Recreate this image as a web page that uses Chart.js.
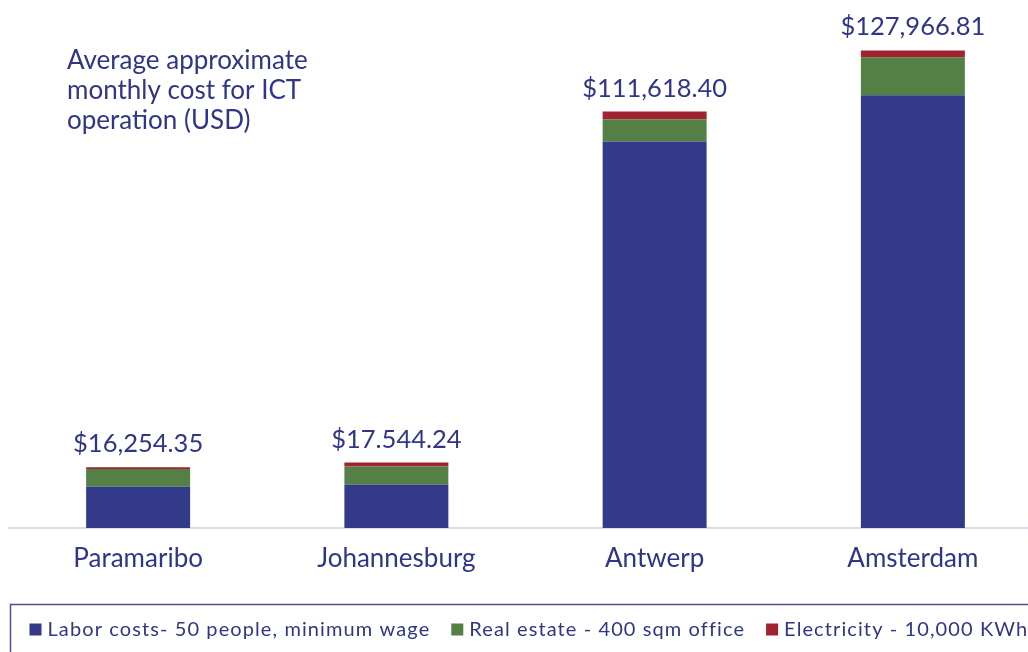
<!DOCTYPE html>
<html><head><meta charset="utf-8">
<script src="https://cdn.jsdelivr.net/npm/chart.js@4.4.0/dist/chart.umd.min.js"></script>
<style>html,body{margin:0;padding:0;background:#fff;overflow:hidden;width:1028px;height:652px}
#wrap{position:absolute;left:0;top:0;width:1042px;height:652px}</style></head>
<body><div id="wrap"><canvas id="c" width="1042" height="652"></canvas></div>
<script>
const categories = ['Paramaribo', 'Johannesburg', 'Antwerp', 'Amsterdam'];
const laborCosts = [11050, 11600, 103550, 115980];
const realEstate = [4750, 4900, 5900, 10190];
const electricity = [454.35, 1044.24, 2168.40, 1796.81];
const totalLabels = ['$16,254.35', '$17.544.24', '$111,618.40', '$127,966.81'];
const seriesNames = ['Labor costs- 50 people, minimum wage', 'Real estate - 400 sqm office', 'Electricity - 10,000 KWh'];
const titleLines = ['Average approximate', 'monthly cost for ICT', 'operation (USD)'];

const TEXT = '#2f3686';
const COLORS = ['#333a89', '#548046', '#a1232f'];

const overlay = {
  id: 'overlay',
  afterDatasetsDraw(chart) {
    const ctx = chart.ctx;
    const topMeta = chart.getDatasetMeta(chart.data.datasets.length - 1);
    ctx.save();
    ctx.fillStyle = TEXT;
    ctx.font = '25.5px Lato';
    ctx.textAlign = 'center';
    ctx.textBaseline = 'alphabetic';
    topMeta.data.forEach((bar, i) => ctx.fillText(totalLabels[i], bar.x, bar.y - 15));
    ctx.textAlign = 'left';
    ctx.font = '26px Lato';
    titleLines.forEach((t, i) => ctx.fillText(t, 67, 69 + i * 30));
    // legend frame
    ctx.strokeStyle = '#4b5097';
    ctx.lineWidth = 1.5;
    ctx.strokeRect(10.5, 604.5, 1100, 100);
    ctx.font = '20px Lato';
    ctx.letterSpacing = '1.1px';
    let x = 29.5;
    chart.data.datasets.forEach((ds, i) => {
      ctx.fillStyle = ds.backgroundColor;
      ctx.fillRect(x, 623.5, 12, 12);
      ctx.fillStyle = TEXT;
      ctx.fillText(ds.label, x + 18, 636);
      x += 18 + ctx.measureText(ds.label).width + 21;
    });
    ctx.restore();
  }
};

function build() {
  new Chart(document.getElementById('c'), {
    type: 'bar',
    data: {
      labels: categories,
      datasets: [
        { label: seriesNames[0], data: laborCosts, backgroundColor: COLORS[0] },
        { label: seriesNames[1], data: realEstate, backgroundColor: COLORS[1] },
        { label: seriesNames[2], data: electricity, backgroundColor: COLORS[2] }
      ]
    },
    options: {
      responsive: false,
      animation: false,
      layout: { padding: { left: 9, right: 0, top: 0, bottom: 64 } },
      datasets: { bar: { categoryPercentage: 1, barPercentage: 0.4026 } },
      plugins: { legend: { display: false }, tooltip: { enabled: false } },
      scales: {
        x: {
          stacked: true,
          grid: { display: false, drawTicks: false },
          border: { display: true, color: '#d9d9ef', width: 2 },
          ticks: { color: TEXT, font: { family: 'Lato', size: 26 }, padding: 15 },
          afterFit(scale) { scale.height = 60; }
        },
        y: { stacked: true, display: false, min: 0, max: 141500 }
      }
    },
    plugins: [overlay]
  });
}
Chart.defaults.font.family = 'Lato';
Promise.all([document.fonts.load('24px Lato'), document.fonts.load('19px Lato')]).then(build, build);
</script></body></html>
